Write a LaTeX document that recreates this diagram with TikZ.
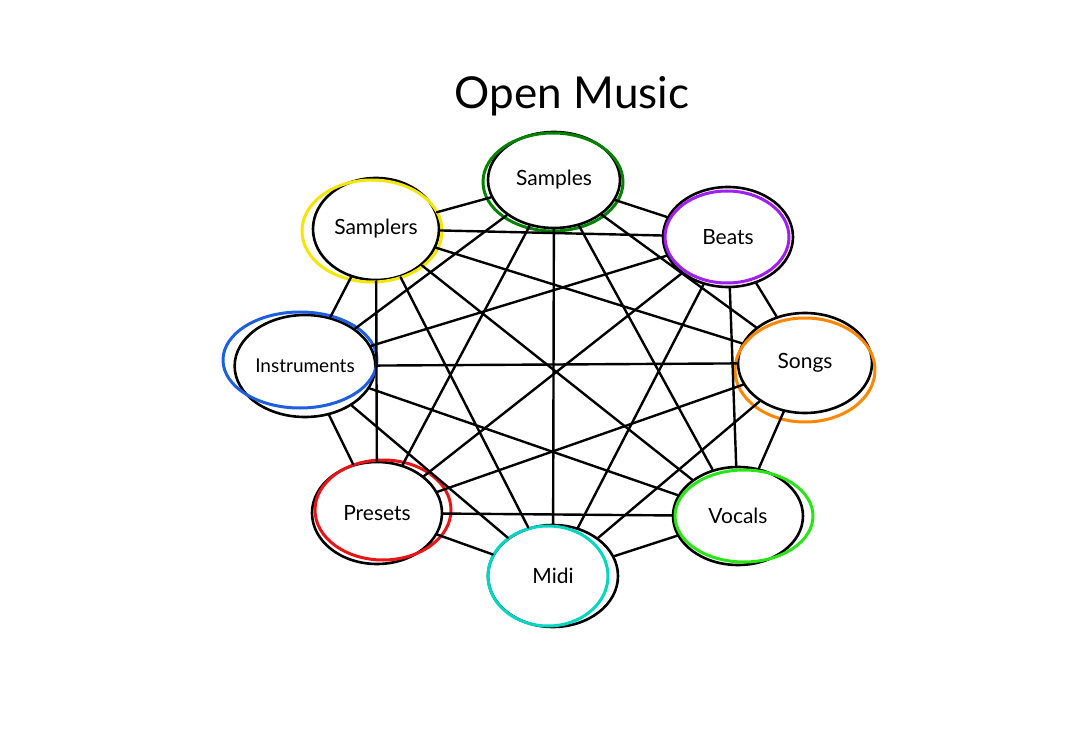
\documentclass[tikz,border=0pt]{standalone}
\usepackage{fontspec}
\setmainfont{Lato}
\usetikzlibrary{shapes.geometric}
\definecolor{ringSamples}{RGB}{0,130,0}
\definecolor{ringBeats}{RGB}{160,30,240}
\definecolor{ringSongs}{RGB}{255,135,0}
\definecolor{ringVocals}{RGB}{40,230,20}
\definecolor{ringMidi}{RGB}{0,215,195}
\definecolor{ringPresets}{RGB}{235,20,20}
\definecolor{ringInstruments}{RGB}{30,95,225}
\definecolor{ringSamplers}{RGB}{245,230,0}
\begin{document}
\begin{tikzpicture}[x=1pt, y=-1pt, line cap=round, line join=round,
  topic/.style={ellipse, draw=black, line width=2.6pt, inner sep=0pt,
    font=\fontsize{21}{24}\selectfont},
  ring/.style={line width=3pt},
  link/.style={draw=black, line width=2.4pt}]
% Board exported by hand
\useasboundingbox[fill=white] (0,0) rectangle (1080,754);
% Title
\node[font=\fontsize{44}{48}\selectfont] (title) at (572,96) {Open Music};
% Topics
\node[topic, minimum width=132, minimum height=96]  (samples)     at (554,180) {Samples};
\node[topic, minimum width=130, minimum height=100] (beats)       at (728,237) {Beats};
\node[topic, minimum width=134, minimum height=100] (songs)       at (805,363) {Songs};
\node[topic, minimum width=130, minimum height=98]  (vocals)      at (738,516) {Vocals};
\node[topic, minimum width=130, minimum height=102] (midi)        at (553,576) {Midi};
\node[topic, minimum width=130, minimum height=102] (presets)     at (377,513) {Presets};
\node[topic, minimum width=130, minimum height=102, font=\fontsize{19}{22}\selectfont] (instruments) at (305,366) {Instruments};
\node[topic, minimum width=126, minimum height=102] (samplers)    at (376,229) {Samplers};
% Coloured rings
\begin{scope}[ring]
  \draw[ringSamples]     ([shift={(-1,2)}]samples.center)      ellipse [x radius=70, y radius=49];
  \draw[ringBeats]       ([shift={(-1,0)}]beats.center)        ellipse [x radius=62, y radius=46];
  \draw[ringSongs]       ([shift={(0,7)}]songs.center)         ellipse [x radius=70, y radius=52];
  \draw[ringVocals]      ([shift={(6,0)}]vocals.center)        ellipse [x radius=69, y radius=46];
  \draw[ringMidi]        ([shift={(-5,0)}]midi.center)         ellipse [x radius=60, y radius=50];
  \draw[ringPresets]     ([shift={(6,-3)}]presets.center)      ellipse [x radius=68, y radius=50];
  \draw[ringInstruments] ([shift={(-5,-6)}]instruments.center) ellipse [x radius=77, y radius=48];
  \draw[ringSamplers]    ([shift={(-4,2)}]samplers.center)     ellipse [x radius=70, y radius=51];
\end{scope}
% Links, every topic to every other
\begin{scope}[link]
  \draw (samples) -- (beats);
  \draw (samples) -- (songs);
  \draw (samples) -- (vocals);
  \draw (samples) -- (midi);
  \draw (samples) -- (presets);
  \draw (samples) -- (instruments);
  \draw (samples) -- (samplers);
  \draw (beats) -- (songs);
  \draw (beats) -- (vocals);
  \draw (beats) -- (midi);
  \draw (beats) -- (presets);
  \draw (beats) -- (instruments);
  \draw (beats) -- (samplers);
  \draw (songs) -- (vocals);
  \draw (songs) -- (midi);
  \draw (songs) -- (presets);
  \draw (songs) -- (instruments);
  \draw (songs) -- (samplers);
  \draw (vocals) -- (midi);
  \draw (vocals) -- (presets);
  \draw (vocals) -- (instruments);
  \draw (vocals) -- (samplers);
  \draw (midi) -- (presets);
  \draw (midi) -- (instruments);
  \draw (midi) -- (samplers);
  \draw (presets) -- (instruments);
  \draw (presets) -- (samplers);
  \draw (instruments) -- (samplers);
\end{scope}
\end{tikzpicture}
\end{document}
